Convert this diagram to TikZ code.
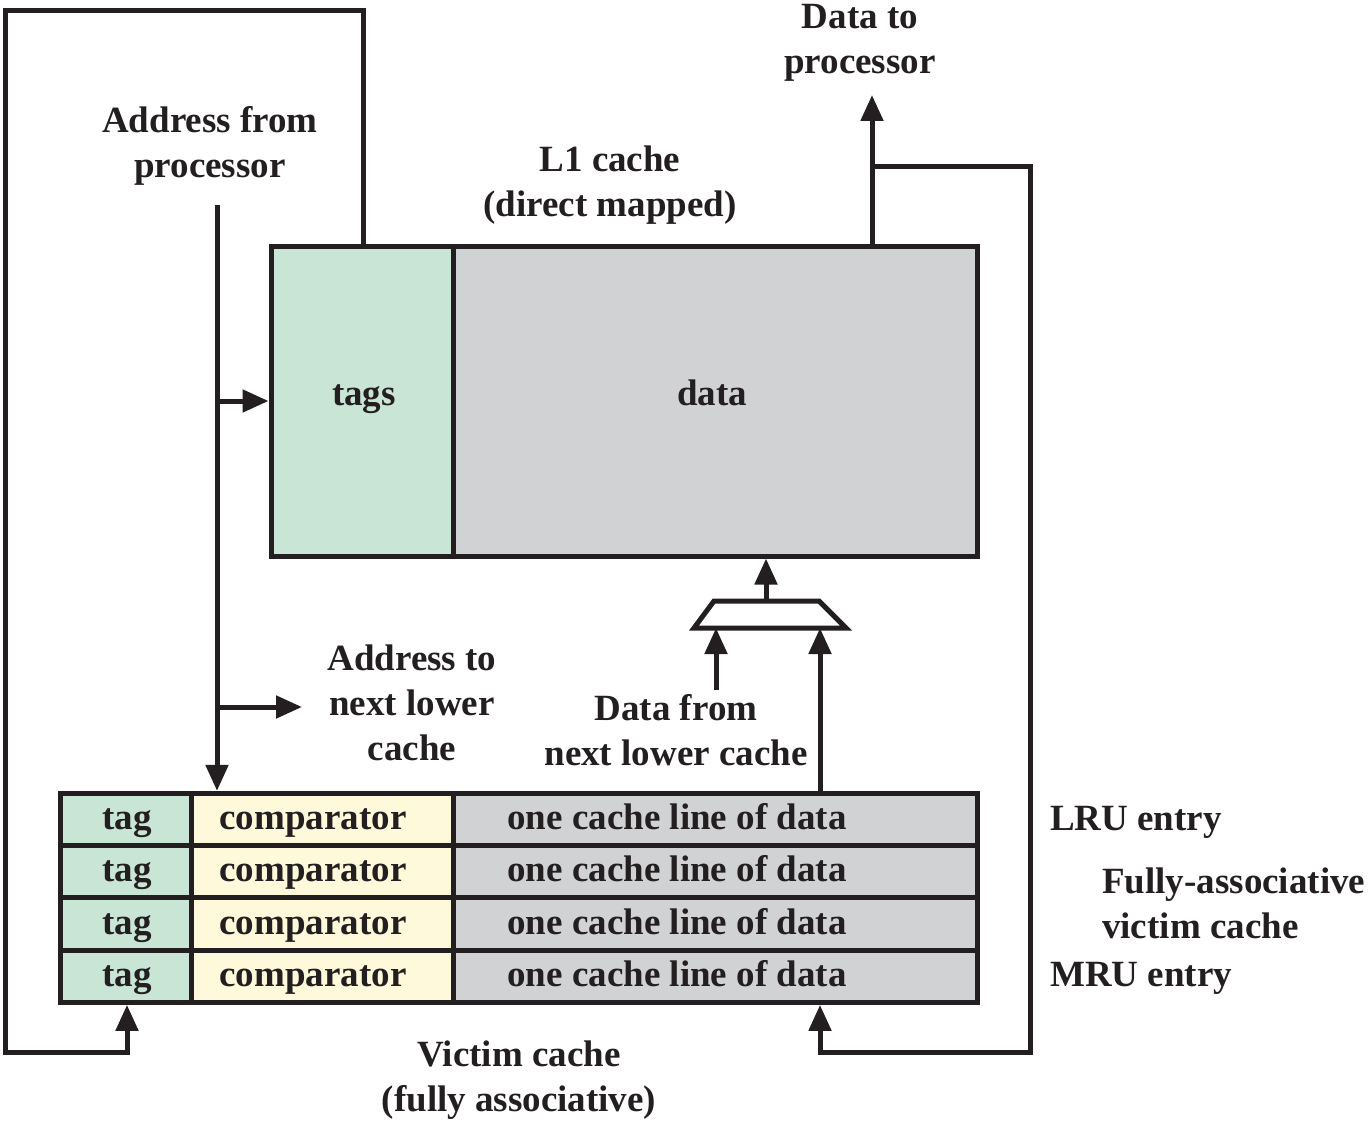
\documentclass[tikz,border=0pt]{standalone}
\usepackage{fontspec}
\setmainfont{Liberation Serif}
\usetikzlibrary{arrows.meta}
\definecolor{ink}{HTML}{231F20}
\definecolor{tagc}{HTML}{C9E5D5}
\definecolor{cmpc}{HTML}{FEF9DA}
\definecolor{datc}{HTML}{D1D2D4}
\tikzset{
  lbl/.style={font=\fontsize{37}{45}\selectfont\bfseries, text=ink, align=center, inner sep=0pt},
  one/.style={lbl, text height=26pt, text depth=8pt},
  cell/.style={draw=ink, line width=5pt, inner sep=0pt, minimum height=52.25pt},
  wire/.style={draw=ink, line width=5pt},
  arr/.style={wire, -{Triangle[length=26pt,width=22pt]}},
}
\begin{document}
\begin{tikzpicture}[x=1pt,y=-1pt]
\useasboundingbox (0,0) rectangle (1369,1121);

% L1 cache
\node[cell, fill=tagc, minimum width=182pt, minimum height=310pt] (tags) at (362,401) {};
\node[cell, fill=datc, minimum width=524pt, minimum height=310pt] (data) at (715,401) {};
\node[one] at (364,396) {tags};
\node[one] at (712,396) {data};

% Victim cache rows
\foreach \i/\y in {1/819.5, 2/871.75, 3/924, 4/976.25} {
  \node[cell, fill=tagc, minimum width=131pt] (t\i) at (125.5,\y) {};
  \node[cell, fill=cmpc, minimum width=262pt] (c\i) at (322,\y) {};
  \node[cell, fill=datc, minimum width=524pt] (d\i) at (715,\y) {};
  \node[one] at (127,\y+1) {tag};
  \node[one] at (313,\y+1) {comparator};
  \node[one] at (677,\y+1) {one cache line of data};
}

% Multiplexer
\coordinate (mtl) at (714,601);
\coordinate (mtr) at (819,601);
\coordinate (mbl) at (694,628);
\coordinate (mbr) at (846,628);
\coordinate (mout) at (766,601);
\coordinate (mxl) at (716,628);
\coordinate (mxr) at (820,628);
\draw[wire] (mtl) -- (mtr) -- (mbr) -- (mbl) -- cycle;
\draw[arr] (mout) -- (mout |- data.south);

% Labels
\node[lbl] at (210,146) {Address from\\processor};
\node[lbl] at (610,185) {L1 cache\\(direct mapped)};
\node[lbl] at (860,43) {Data to\\processor};
\node[lbl] (atxt) at (412,703) {Address to\\next lower\\cache};
\node[lbl] (dtxt) at (676,730) {Data from\\next lower cache};
\node[one, anchor=west] at (1050,821) {LRU entry};
\node[lbl, anchor=west, align=left] at (1102,903) {Fully-associative\\victim cache};
\node[one, anchor=west] at (1050,977) {MRU entry};
\node[lbl] at (519,1080) {Victim cache\\(fully associative)};

% Address from processor
\coordinate (asrc) at (217,205);
\coordinate (atail) at (302,707);
\draw[arr] (asrc) -- (asrc |- c1.north);
\draw[arr] (asrc |- tags.west) -- (tags.west);
\draw[arr] (asrc |- atail) -- (atail);

% Data from next lower cache into the multiplexer
\coordinate (dsrc) at (716,690);
\draw[arr] (dsrc) -- (mxl);
\draw[arr] (d1.north -| mxr) -- (mxr);

% Evicted tag loop on the left
\coordinate (lt) at (5,11);
\coordinate (lb) at (5,1052);
\draw[arr] (tags.north -| 363,0) |- (lt) -- (lb) -| (t4.south -| 127,0);

% Data to processor and loop on the right
\coordinate (dtp) at (872,95);
\coordinate (rt) at (1030,167);
\coordinate (rb) at (1030,1052);
\draw[arr] (data.north -| dtp) -- (dtp);
\draw[arr] (dtp |- rt) -- (rt) -- (rb) -| (d4.south -| mxr);
\end{tikzpicture}
\end{document}
